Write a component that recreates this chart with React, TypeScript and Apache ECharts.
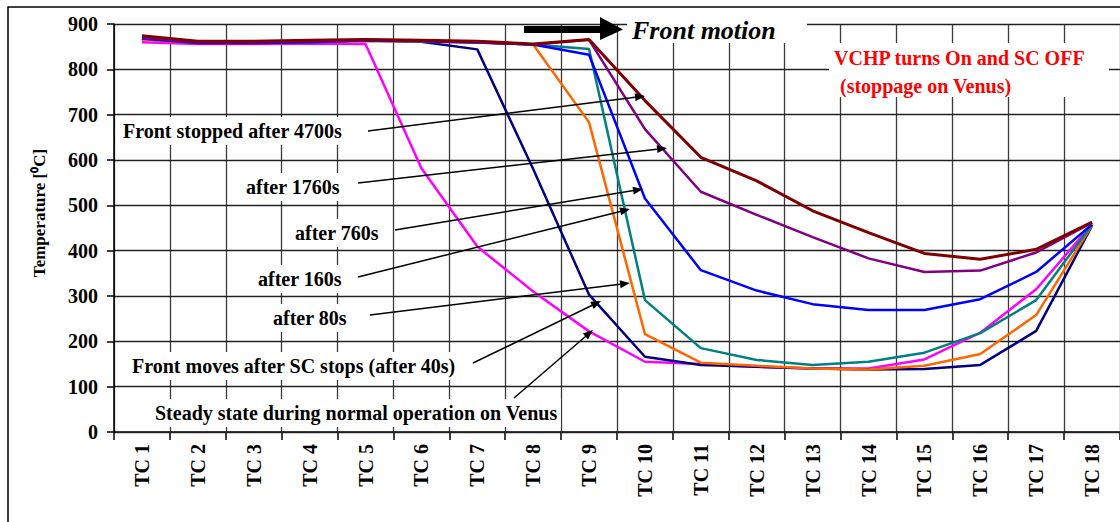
import React, { useEffect, useRef } from "react";
import * as echarts from "echarts";

// ---------- data ----------
const categories = [
  "TC 1", "TC 2", "TC 3", "TC 4", "TC 5", "TC 6", "TC 7", "TC 8", "TC 9",
  "TC 10", "TC 11", "TC 12", "TC 13", "TC 14", "TC 15", "TC 16", "TC 17", "TC 18",
];
const steadyState = [860, 856, 856, 857, 856, 582, 409, 310, 222, 155, 150, 144, 140, 140, 160, 219, 315, 458];
const after40s = [867, 858, 858, 860, 863, 861, 844, 580, 303, 166, 148, 144, 140, 138, 139, 148, 223, 455];
const after80s = [866, 858, 858, 860, 863, 861, 859, 855, 683, 216, 153, 146, 140, 138, 146, 172, 258, 456];
const after160s = [868, 859, 859, 861, 864, 862, 860, 855, 845, 291, 185, 159, 148, 155, 175, 218, 291, 457];
const after760s = [868, 858, 858, 860, 864, 862, 859, 855, 832, 515, 357, 312, 282, 269, 269, 293, 353, 458];
const after1760s = [870, 860, 860, 862, 865, 863, 860, 855, 865, 668, 530, 479, 430, 383, 353, 356, 396, 462];
const after4700s = [874, 862, 862, 864, 866, 864, 862, 856, 866, 731, 606, 554, 488, 440, 394, 381, 403, 463];

const yMin = 0;
const yMax = 900;
const yStep = 100;

const seriesNames = [
  "Steady state during normal operation on Venus",
  "Front moves after SC stops (after 40s)",
  "after 80s",
  "after 160s",
  "after 760s",
  "after 1760s",
  "Front stopped after 4700s",
];
const seriesData = [steadyState, after40s, after80s, after160s, after760s, after1760s, after4700s];
const seriesColors = ["#FF00FF", "#000080", "#FF6600", "#008080", "#0000FF", "#800080", "#800000"];
const seriesWidths = [2.5, 2.5, 2.5, 2.5, 2.5, 2.5, 3];

// annotation labels: text, label left/middle, arrow start, arrow tip (pixels)
const annotations = [
  { text: "Front stopped after 4700s", tx: 123, ty: 131, from: [368, 131], to: [645, 96] },
  { text: "after 1760s", tx: 246, ty: 187, from: [358, 183], to: [667, 148] },
  { text: "after 760s", tx: 295, ty: 233, from: [395, 230], to: [643, 189] },
  { text: "after 160s", tx: 258, ty: 279, from: [358, 277], to: [630, 209] },
  { text: "after 80s", tx: 273, ty: 318, from: [370, 315], to: [630, 283] },
  { text: "Front moves after SC stops (after 40s)", tx: 132, ty: 366, from: [473, 363], to: [601, 301] },
  { text: "Steady state during normal operation on Venus", tx: 155, ty: 413, from: [514, 398], to: [593, 330] },
];

const SERIF = "'Liberation Serif', 'Times New Roman', serif";

function arrowElements(x1: number, y1: number, x2: number, y2: number, z: number) {
  const dx = x2 - x1;
  const dy = y2 - y1;
  const len = Math.sqrt(dx * dx + dy * dy);
  const ux = dx / len;
  const uy = dy / len;
  const L = 10;
  const W = 4;
  const bx = x2 - ux * L;
  const by = y2 - uy * L;
  const nx = -uy;
  const ny = ux;
  return [
    {
      type: "line",
      z,
      silent: true,
      shape: { x1, y1, x2: bx + ux * 2, y2: by + uy * 2 },
      style: { stroke: "#000", lineWidth: 1.5 },
    },
    {
      type: "polygon",
      z,
      silent: true,
      shape: {
        points: [
          [x2, y2],
          [bx + nx * W, by + ny * W],
          [bx - nx * W, by - ny * W],
        ],
      },
      style: { fill: "#000" },
    },
  ];
}

export default function App() {
  const ref = useRef<HTMLDivElement>(null);

  useEffect(() => {
    if (!ref.current) return;
    const chart = echarts.init(ref.current, undefined, { renderer: "svg" });

    const graphics: any[] = [];
    // outer frame
    graphics.push({
      type: "rect",
      z: 0,
      silent: true,
      shape: { x: 8, y: 7, width: 1140, height: 540 },
      style: { fill: "none", stroke: "#000", lineWidth: 1.5 },
    });
    // annotation labels with white boxes
    annotations.forEach((a) => {
      graphics.push({
        type: "text",
        z: 1,
        silent: true,
        style: {
          text: a.text,
          x: a.tx - 3,
          y: a.ty,
          align: "left",
          verticalAlign: "middle",
          fill: "#000",
          fontSize: 20,
          fontWeight: "bold",
          fontFamily: SERIF,
          backgroundColor: "#fff",
          padding: [4, 3],
        },
      });
      arrowElements(a.from[0], a.from[1], a.to[0], a.to[1], 5).forEach((g) => graphics.push(g));
    });
    // Front motion box, arrow and text
    graphics.push({
      type: "rect",
      z: 3,
      silent: true,
      shape: { x: 627, y: 9, width: 180, height: 34 },
      style: { fill: "#fff" },
    });
    graphics.push({
      type: "rect",
      z: 5,
      silent: true,
      shape: { x: 524, y: 26, width: 78, height: 7 },
      style: { fill: "#000" },
    });
    graphics.push({
      type: "polygon",
      z: 5,
      silent: true,
      shape: { points: [[600, 17], [623, 29.5], [600, 40]] },
      style: { fill: "#000" },
    });
    graphics.push({
      type: "text",
      z: 5,
      silent: true,
      style: {
        text: "Front motion",
        x: 632,
        y: 30,
        align: "left",
        verticalAlign: "middle",
        fill: "#000",
        fontSize: 26,
        fontWeight: "bold",
        fontStyle: "italic",
        fontFamily: SERIF,
      },
    });
    // VCHP box and texts
    graphics.push({
      type: "rect",
      z: 3,
      silent: true,
      shape: { x: 829, y: 43, width: 280, height: 54 },
      style: { fill: "#fff" },
    });
    graphics.push({
      type: "text",
      z: 5,
      silent: true,
      style: {
        text: "VCHP turns On and SC OFF",
        x: 834,
        y: 58,
        align: "left",
        verticalAlign: "middle",
        fill: "#FF0000",
        fontSize: 20,
        fontWeight: "bold",
        fontFamily: SERIF,
      },
    });
    graphics.push({
      type: "text",
      z: 5,
      silent: true,
      style: {
        text: "(stoppage on Venus)",
        x: 840,
        y: 86,
        align: "left",
        verticalAlign: "middle",
        fill: "#FF0000",
        fontSize: 20,
        fontWeight: "bold",
        fontFamily: SERIF,
      },
    });

    const option: any = {
      animation: false,
      backgroundColor: "#fff",
      grid: { left: 114, right: -10, top: 24, bottom: 90, containLabel: false },
      xAxis: {
        type: "category",
        data: categories,
        boundaryGap: true,
        z: 0,
        axisLine: { show: true, lineStyle: { color: "#000", width: 1.5 } },
        axisTick: { show: true, interval: 0, length: 8, lineStyle: { color: "#000", width: 1.5 } },
        splitLine: { show: true, interval: 0, lineStyle: { color: "#3a3a3a", width: 1.3 } },
        axisLabel: {
          interval: 0,
          rotate: 90,
          margin: 12,
          color: "#000",
          fontSize: 20,
          fontWeight: "bold",
          fontFamily: SERIF,
        },
      },
      yAxis: {
        type: "value",
        min: yMin,
        max: yMax,
        interval: yStep,
        z: 2,
        name: "Temperature [\u2070C]",
        nameLocation: "middle",
        nameRotate: 90,
        nameGap: 66,
        nameTextStyle: {
          color: "#000",
          fontSize: 17,
          fontWeight: "bold",
          fontFamily: SERIF,
          padding: [0, 0, 0, 30],
        },
        axisLine: { show: true, lineStyle: { color: "#000", width: 1.5 } },
        axisTick: { show: true, length: 7, lineStyle: { color: "#000", width: 1.5 } },
        splitLine: { show: true, lineStyle: { color: "#222", width: 1.3 } },
        axisLabel: {
          margin: 16,
          color: "#000",
          fontSize: 20,
          fontWeight: "bold",
          fontFamily: SERIF,
        },
      },
      series: seriesData.map((d, i) => ({
        name: seriesNames[i],
        type: "line",
        data: d,
        z: 4,
        symbol: "none",
        silent: true,
        lineStyle: { color: seriesColors[i], width: seriesWidths[i] },
      })),
      graphic: graphics,
    };

    chart.setOption(option);
    return () => chart.dispose();
  }, []);

  return (
    <div
      ref={ref}
      style={{ position: "fixed", left: 0, top: 0, width: 1120, height: 522, background: "#fff" }}
    />
  );
}
